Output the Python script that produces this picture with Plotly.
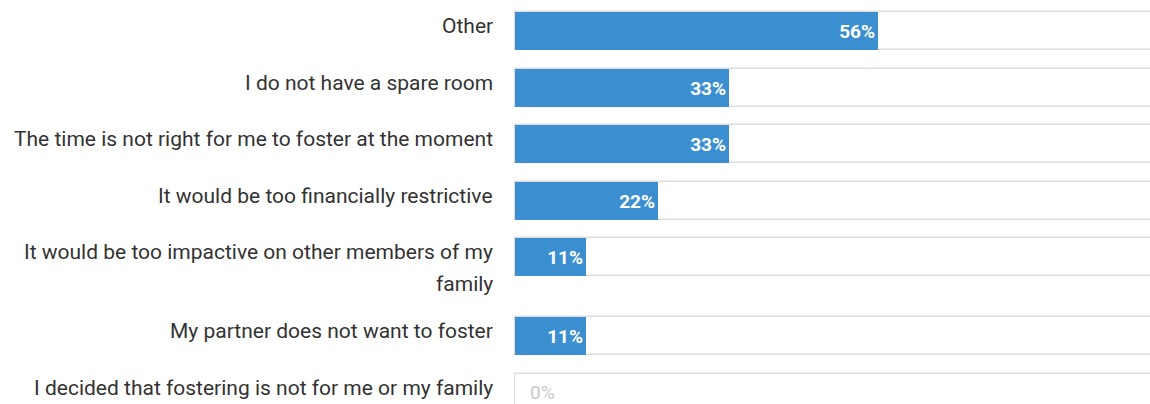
import plotly.graph_objects as go

# Survey answers, top to bottom
categories = [
    "Other",
    "I do not have a spare room",
    "The time is not right for me to foster at the moment",
    "It would be too financially restrictive",
    "It would be too impactive on other members of my<br>family",
    "My partner does not want to foster",
    "I decided that fostering is not for me or my family",
]
percentages = [56, 33, 33, 22, 11, 11, 0]

BLUE = "#3b8fd0"
TRACK_LINE = "#dddddd"
LABEL_COLOR = "#333333"
FONT = "Roboto, Arial, sans-serif"

# Vertical layout in pixels (y axis spans the figure height)
HEIGHT = 404
FIRST_TOP = 12
ROW_STEP = 56.5
EXTRA_LINE = 22.5
BAR_THICK = 38
LINE_GAP = 32

tops = []
pos = FIRST_TOP
for cat in categories:
    tops.append(pos)
    pos += ROW_STEP + EXTRA_LINE * cat.count("<br>")
centers = [t + BAR_THICK / 2 for t in tops]

fig = go.Figure()

# Grey outlined track behind each bar
fig.add_trace(go.Bar(
    x=[100] * len(categories), y=centers, orientation="h", width=BAR_THICK,
    marker=dict(color="white", line=dict(color=TRACK_LINE, width=1.5)),
    hoverinfo="skip", showlegend=False,
))

# Value bars
fig.add_trace(go.Bar(
    x=percentages, y=centers, orientation="h", width=BAR_THICK,
    marker=dict(color=BLUE, line=dict(width=0)),
    text=[f"{v}%" if v > 0 else "" for v in percentages],
    textposition="inside", insidetextanchor="end",
    textfont=dict(family=FONT, size=19, color="white", weight="bold"),
    constraintext="none", cliponaxis=False,
    showlegend=False,
))

annotations = []
# Category labels, right aligned left of the plot
for cat, top in zip(categories, tops):
    for i, line in enumerate(cat.split("<br>")):
        annotations.append(dict(
            xref="paper", yref="y", x=0, y=top + 14 + i * LINE_GAP,
            xanchor="right", yanchor="middle", xshift=-19,
            text=line, showarrow=False,
            font=dict(family=FONT, size=21, color=LABEL_COLOR),
        ))
# Labels for empty bars
for v, c in zip(percentages, centers):
    if v == 0:
        annotations.append(dict(
            xref="x", yref="y", x=v, y=c, xanchor="left", yanchor="middle",
            xshift=13, text=f"{v}%", showarrow=False,
            font=dict(family=FONT, size=19, color="#c8c8c8"),
        ))

fig.update_layout(
    width=1150, height=HEIGHT,
    margin=dict(l=514, r=0, t=0, b=0),
    paper_bgcolor="white", plot_bgcolor="white",
    barmode="overlay", bargap=0,
    annotations=annotations,
    xaxis=dict(range=[-0.15, 97.9], visible=False, fixedrange=True),
    yaxis=dict(range=[HEIGHT, 0], visible=False, fixedrange=True),
)

fig.write_html("out.html")
